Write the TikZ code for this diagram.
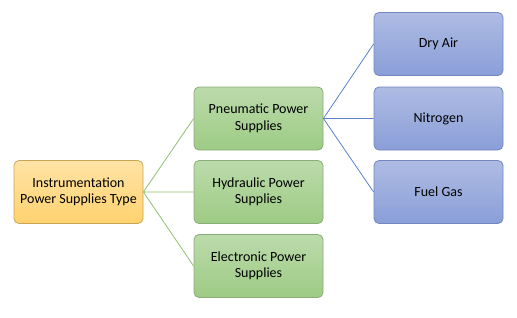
\documentclass[tikz,border=0pt]{standalone}
\usepackage{fontspec}
\setmainfont{Carlito}
\usetikzlibrary{positioning}
\definecolor{rootTop}{HTML}{FFE3A6}
\definecolor{rootBot}{HTML}{FFD26E}
\definecolor{rootLine}{HTML}{C8A555}
\definecolor{grnTop}{HTML}{BCDBAC}
\definecolor{grnBot}{HTML}{9DCB84}
\definecolor{grnLine}{HTML}{88AD76}
\definecolor{bluTop}{HTML}{AEBCE3}
\definecolor{bluBot}{HTML}{8A9ED8}
\definecolor{bluLine}{HTML}{7486BF}
\definecolor{grnWire}{HTML}{8DC26F}
\definecolor{bluWire}{HTML}{5B80CB}

\begin{document}
\begin{tikzpicture}[x=1pt, y=-1pt,
    box/.style={rounded corners=5pt, minimum width=129pt, minimum height=63pt,
        align=center, font=\fontsize{14}{16.5}\selectfont, text=black, line width=0.8pt},
    rootbox/.style={box, draw=rootLine, top color=rootTop, bottom color=rootBot},
    typebox/.style={box, draw=grnLine, top color=grnTop, bottom color=grnBot},
    gasbox/.style={box, draw=bluLine, top color=bluTop, bottom color=bluBot}]
    \useasboundingbox (0,0) rectangle (517,317);

    % Root
    \node[rootbox] (root) at (78.5, 192) {Instrumentation\\Power Supplies Type};

    % Supply types
    \node[typebox] (pneu) at (258.5, 118.5) {Pneumatic Power\\Supplies};
    \node[typebox] (hyd)  at (258.5, 192)   {Hydraulic Power\\Supplies};
    \node[typebox] (elec) at (258.5, 266)   {Electronic Power\\Supplies};

    % Pneumatic media
    \node[gasbox] (air) at (438.5, 44)    {Dry Air};
    \node[gasbox] (nit) at (438.5, 118.5) {Nitrogen};
    \node[gasbox] (gas) at (438.5, 192)   {Fuel Gas};

    % Connectors
    \draw[grnWire, line width=0.8pt] (root.east) -- (pneu.west) (root.east) -- (hyd.west) (root.east) -- (elec.west);
    \draw[bluWire, line width=0.8pt] (pneu.east) -- (air.west) (pneu.east) -- (nit.west) (pneu.east) -- (gas.west);
\end{tikzpicture}
\end{document}
